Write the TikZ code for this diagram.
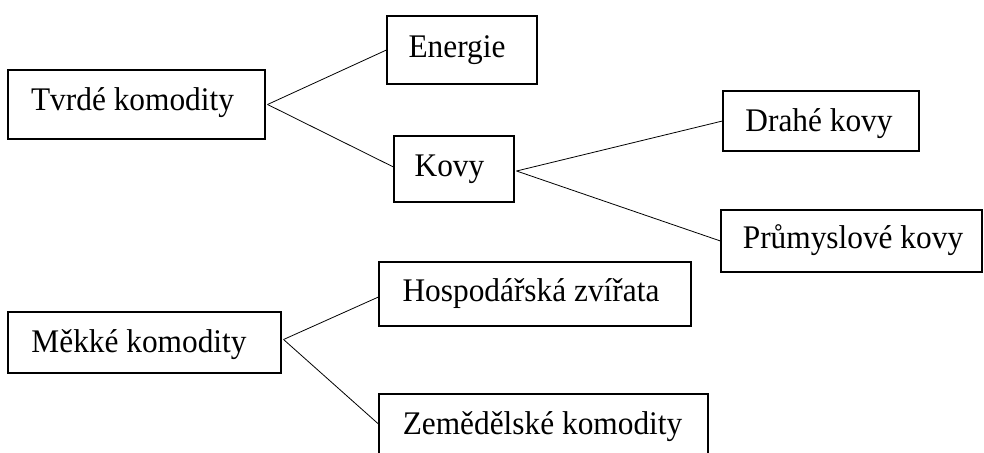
\documentclass[tikz,border=0pt]{standalone}
\usepackage{fontspec}
\setmainfont{Liberation Serif}[FakeStretch=0.95]
\begin{document}
\begin{tikzpicture}[x=1pt,y=-1pt,
  cbox/.style n args={3}{draw, line width=1.1pt, inner sep=0pt,
    minimum width=#1, minimum height=#2, text height=#3, text depth=7pt,
    font=\fontsize{33}{37}\selectfont},
  conn/.style={line width=0.8pt}]
\useasboundingbox (0,0) rectangle (984,452);
\fill[white] (0,0) rectangle (984,452);
\node[cbox={257pt}{69pt}{18pt}] (tvrde) at (136.5,104.5) {\kern-8pt Tvrdé komodity};
\node[cbox={150pt}{68pt}{21pt}] (energie) at (462,50) {\kern-10pt Energie};
\node[cbox={120pt}{66pt}{21pt}] (kovy) at (454,169) {\kern-9pt Kovy};
\node[cbox={196pt}{60pt}{28pt}] (drahe) at (821,121) {\kern-4pt Drahé kovy};
\node[cbox={261pt}{62pt}{21pt}] (prum) at (851.5,241) {\kern3pt Průmyslové kovy};
\node[cbox={312pt}{64pt}{22pt}] (hosp) at (535,294) {\kern-8pt Hospodářská zvířata};
\node[cbox={273pt}{61pt}{27pt}] (mekke) at (144.5,342.5) {\kern-11pt Měkké komodity};
\node[cbox={329pt}{60pt}{27pt}] (zem) at (543.5,424) {\kern-2pt Zemědělské komodity};
\draw[conn] ([xshift=2pt]tvrde.east) -- (energie.west);
\draw[conn] ([xshift=2pt]tvrde.east) -- ([yshift=2pt]kovy.west);
\draw[conn] ([xshift=2pt,yshift=-2pt]kovy.east) -- (drahe.west);
\draw[conn] ([xshift=2pt,yshift=-2pt]kovy.east) -- (prum.west);
\draw[conn] ([xshift=2pt,yshift=3pt]mekke.east) -- ([yshift=-3pt]hosp.west);
\draw[conn] ([xshift=2pt,yshift=3pt]mekke.east) -- (zem.west);
\end{tikzpicture}
\end{document}
